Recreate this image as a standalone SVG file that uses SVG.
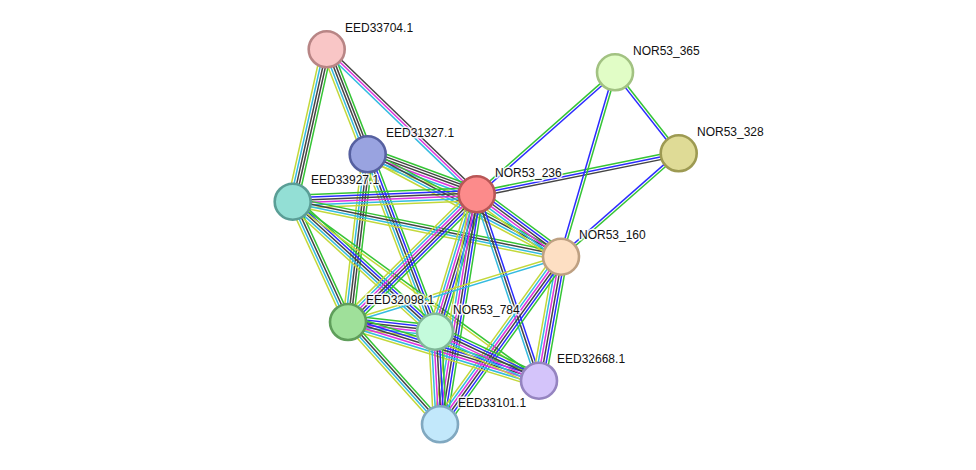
<svg xmlns="http://www.w3.org/2000/svg" xmlns:xlink="http://www.w3.org/1999/xlink" width="976" height="470" viewBox="0 0 976 470">
<style>
line{stroke-width:1.5;fill:none}
.g{stroke:#35c435}.b{stroke:#2b2bff}.k{stroke:#444}.m{stroke:#dd33dd}.c{stroke:#33bbe0}.y{stroke:#c3d83a}
.node circle{stroke-width:2.6}
.lbl{font-family:"Liberation Sans",Arial,sans-serif;font-size:12px;fill:#111;stroke:#fff;stroke-width:3;stroke-opacity:0.85;paint-order:stroke;stroke-linejoin:round}
</style>
<defs>
<g id="full"><line class="g" x2="1" y1="-6.5" y2="-6.5"/><line class="b" x2="1" y1="-3.9" y2="-3.9"/><line class="k" x2="1" y1="-1.3" y2="-1.3"/><line class="m" x2="1" y1="1.3" y2="1.3"/><line class="c" x2="1" y1="3.9" y2="3.9"/><line class="y" x2="1" y1="6.5" y2="6.5"/></g>
<g id="gkkcy"><line class="g" x2="1" y1="-5.2" y2="-5.2"/><line class="k" x2="1" y1="-2.6" y2="-2.6"/><line class="k" x2="1" y1="0" y2="0"/><line class="c" x2="1" y1="2.6" y2="2.6"/><line class="y" x2="1" y1="5.2" y2="5.2"/></g>
<g id="kmc"><line class="k" x2="1" y1="-2.6" y2="-2.6"/><line class="m" x2="1" y1="0" y2="0"/><line class="c" x2="1" y1="2.6" y2="2.6"/></g>
<g id="gkkmcy"><line class="g" x2="1" y1="-6.5" y2="-6.5"/><line class="k" x2="1" y1="-3.9" y2="-3.9"/><line class="k" x2="1" y1="-1.3" y2="-1.3"/><line class="m" x2="1" y1="1.3" y2="1.3"/><line class="c" x2="1" y1="3.9" y2="3.9"/><line class="y" x2="1" y1="6.5" y2="6.5"/></g>
<g id="gkcy"><line class="g" x2="1" y1="-3.9" y2="-3.9"/><line class="k" x2="1" y1="-1.3" y2="-1.3"/><line class="c" x2="1" y1="1.3" y2="1.3"/><line class="y" x2="1" y1="3.9" y2="3.9"/></g>
<g id="gbkcy"><line class="g" x2="1" y1="-5.2" y2="-5.2"/><line class="b" x2="1" y1="-2.6" y2="-2.6"/><line class="k" x2="1" y1="0" y2="0"/><line class="c" x2="1" y1="2.6" y2="2.6"/><line class="y" x2="1" y1="5.2" y2="5.2"/></g>
<g id="gy"><line class="g" x2="1" y1="-1.3" y2="-1.3"/><line class="y" x2="1" y1="1.3" y2="1.3"/></g>
<g id="gb"><line class="g" x2="1" y1="-1.3" y2="-1.3"/><line class="b" x2="1" y1="1.3" y2="1.3"/></g>
<g id="gbk"><line class="g" x2="1" y1="-2.6" y2="-2.6"/><line class="b" x2="1" y1="0" y2="0"/><line class="k" x2="1" y1="2.6" y2="2.6"/></g>
<g id="bkc"><line class="b" x2="1" y1="-2.6" y2="-2.6"/><line class="k" x2="1" y1="0" y2="0"/><line class="c" x2="1" y1="2.6" y2="2.6"/></g>
<g id="cy"><line class="c" x2="1" y1="-1.3" y2="-1.3"/><line class="y" x2="1" y1="1.3" y2="1.3"/></g>
</defs>
<rect width="976" height="470" fill="#fff"/>
<g id="edges">
<use xlink:href="#gkkcy" transform="translate(326.7 49.3) rotate(102.58) scale(156.1 1)"/>
<use xlink:href="#gkkcy" transform="translate(326.7 49.3) rotate(68.67) scale(112.7 1)"/>
<use xlink:href="#kmc" transform="translate(326.7 49.3) rotate(44.03) scale(208.6 1)"/>
<use xlink:href="#gkkmcy" transform="translate(367.7 154.3) rotate(20.15) scale(116.1 1)"/>
<use xlink:href="#gkcy" transform="translate(367.7 154.3) rotate(27.91) scale(218.7 1)"/>
<use xlink:href="#gkkcy" transform="translate(367.7 154.3) rotate(96.70) scale(168.9 1)"/>
<use xlink:href="#gbkcy" transform="translate(367.7 154.3) rotate(69.22) scale(189.7 1)"/>
<use xlink:href="#full" transform="translate(292.7 201.7) rotate(-2.30) scale(184.1 1)"/>
<use xlink:href="#gkcy" transform="translate(292.7 201.7) rotate(11.58) scale(273.9 1)"/>
<use xlink:href="#gkcy" transform="translate(292.7 201.7) rotate(65.31) scale(132.4 1)"/>
<use xlink:href="#gbkcy" transform="translate(292.7 201.7) rotate(42.41) scale(192.7 1)"/>
<use xlink:href="#gy" transform="translate(292.7 201.7) rotate(36.0) scale(304.5 1)"/>
<use xlink:href="#gb" transform="translate(476.7 194.3) rotate(-41.42) scale(184.4 1)"/>
<use xlink:href="#gbk" transform="translate(476.7 194.3) rotate(-11.47) scale(206.1 1)"/>
<use xlink:href="#full" transform="translate(476.7 194.3) rotate(36.50) scale(104.9 1)"/>
<use xlink:href="#full" transform="translate(476.7 194.3) rotate(135.22) scale(181.3 1)"/>
<use xlink:href="#full" transform="translate(476.7 194.3) rotate(106.88) scale(143.6 1)"/>
<use xlink:href="#bkc" transform="translate(476.7 194.3) rotate(71.52) scale(196.5 1)"/>
<use xlink:href="#full" transform="translate(476.7 194.3) rotate(99.07) scale(232.9 1)"/>
<use xlink:href="#gb" transform="translate(615 72.3) rotate(51.82) scale(103.0 1)"/>
<use xlink:href="#gb" transform="translate(615 72.3) rotate(106.32) scale(192.1 1)"/>
<use xlink:href="#gb" transform="translate(678.7 153.3) rotate(138.70) scale(156.7 1)"/>
<use xlink:href="#cy" transform="translate(561 256.7) rotate(162.96) scale(222.8 1)"/>
<use xlink:href="#full" transform="translate(561 256.7) rotate(100.06) scale(125.9 1)"/>
<use xlink:href="#full" transform="translate(561 256.7) rotate(125.83) scale(206.7 1)"/>
<use xlink:href="#full" transform="translate(348 322) rotate(6.36) scale(87.5 1)"/>
<use xlink:href="#full" transform="translate(348 322) rotate(17.08) scale(199.8 1)"/>
<use xlink:href="#gkcy" transform="translate(348 322) rotate(48.03) scale(137.6 1)"/>
<use xlink:href="#full" transform="translate(435 331.7) rotate(25.23) scale(115.0 1)"/>
<use xlink:href="#full" transform="translate(435 331.7) rotate(86.91) scale(92.7 1)"/>
</g>
<g id="EED33704.1" class="node"><circle cx="326.7" cy="49.3" r="18" fill="#f9c6c6" stroke="#b88585"/><text class="lbl" x="345" y="32">EED33704.1</text></g>
<g id="EED31327.1" class="node"><circle cx="367.7" cy="154.3" r="18" fill="#99a3e0" stroke="#5660a0"/><text class="lbl" x="386" y="137">EED31327.1</text></g>
<g id="EED33927.1" class="node"><circle cx="292.7" cy="201.7" r="18" fill="#93dfd5" stroke="#5a9e96"/><text class="lbl" x="311" y="184">EED33927.1</text></g>
<g id="NOR53_236" class="node"><circle cx="476.7" cy="194.3" r="18" fill="#fc8b8b" stroke="#b85656"/><text class="lbl" x="495" y="177">NOR53_236</text></g>
<g id="NOR53_365" class="node"><circle cx="615" cy="72.3" r="18" fill="#e1fdc6" stroke="#a2c282"/><text class="lbl" x="633" y="55">NOR53_365</text></g>
<g id="NOR53_328" class="node"><circle cx="678.7" cy="153.3" r="18" fill="#dfdb96" stroke="#9d9a52"/><text class="lbl" x="697" y="136">NOR53_328</text></g>
<g id="NOR53_160" class="node"><circle cx="561" cy="256.7" r="18" fill="#fddfc3" stroke="#bea082"/><text class="lbl" x="579" y="239">NOR53_160</text></g>
<g id="EED32098.1" class="node"><circle cx="348" cy="322" r="18" fill="#9fe09a" stroke="#5f9e5b"/><text class="lbl" x="366" y="304">EED32098.1</text></g>
<g id="NOR53_784" class="node"><circle cx="435" cy="331.7" r="18" fill="#c4fbdc" stroke="#80b898"/><text class="lbl" x="453" y="314">NOR53_784</text></g>
<g id="EED32668.1" class="node"><circle cx="539" cy="380.7" r="18" fill="#d4c4fa" stroke="#9584c0"/><text class="lbl" x="557" y="363">EED32668.1</text></g>
<g id="EED33101.1" class="node"><circle cx="440" cy="424.3" r="18" fill="#c2e8fb" stroke="#80a8c0"/><text class="lbl" x="458" y="407">EED33101.1</text></g>
</svg>
